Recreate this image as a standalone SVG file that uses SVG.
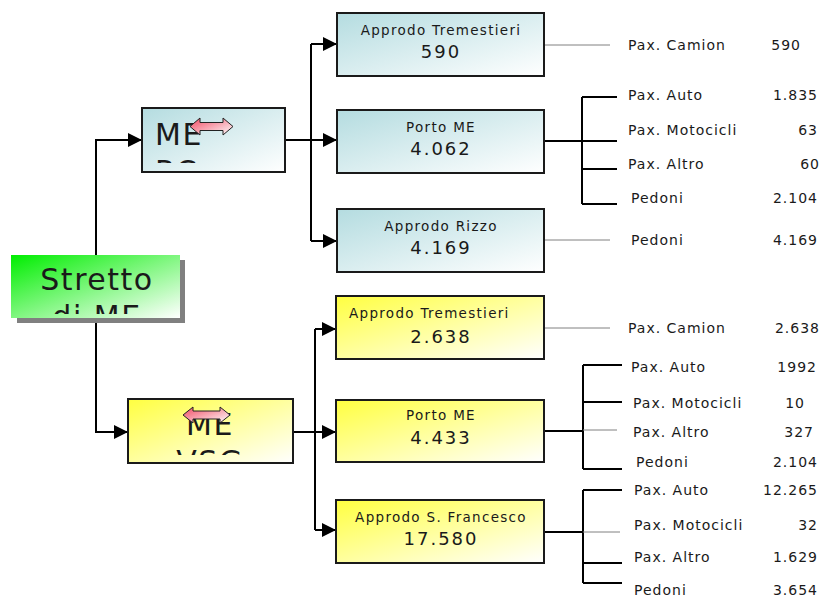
<svg xmlns="http://www.w3.org/2000/svg" width="825" height="599" viewBox="0 0 825 599">
<style>
.box{stroke:#1a1a1a;stroke-width:2}
.ln{fill:none;stroke:#000;stroke-width:2}
.thin{fill:none;stroke:#808080;stroke-width:1}
.t{font-family:"DejaVu Sans",Verdana,sans-serif;fill:#1a1a1a}
.lab{font-size:13.5px;letter-spacing:1.3px}
.num{font-size:18px;letter-spacing:2px}
.big{font-size:30px;letter-spacing:1.5px}
.side{font-size:14px;letter-spacing:1px}
.dar{stroke:#222;stroke-width:1}
</style>
<defs>
<linearGradient id="gb" x1="0" y1="0" x2="1" y2="1"><stop offset="0" stop-color="#b4dce0"/><stop offset="1" stop-color="#ffffff"/></linearGradient>
<linearGradient id="gy" x1="0" y1="0" x2="1" y2="1"><stop offset="0" stop-color="#ffff40"/><stop offset="1" stop-color="#ffffff"/></linearGradient>
<linearGradient id="gg" x1="0" y1="0" x2="1" y2="1"><stop offset="0" stop-color="#00ee00"/><stop offset="1" stop-color="#ffffff"/></linearGradient>
<linearGradient id="gp" x1="0" y1="0" x2="1" y2="1"><stop offset="0" stop-color="#f04a62"/><stop offset="1" stop-color="#ffffff"/></linearGradient>
<marker id="ah" markerUnits="userSpaceOnUse" markerWidth="14" markerHeight="14" refX="14" refY="7" orient="auto"><path d="M0,0 L14,7 L0,14 z" fill="#000"/></marker>
<clipPath id="cs"><rect x="11" y="255" width="169" height="59"/></clipPath>
<clipPath id="crc"><rect x="142" y="108" width="143" height="55"/></clipPath>
<clipPath id="cvsg"><rect x="128" y="399" width="165" height="56"/></clipPath>
</defs>
<g id="connectors">
<path class="ln" d="M96,286 V140 H142" marker-end="url(#ah)"/>
<path class="ln" d="M96,286 V432 H128" marker-end="url(#ah)"/>
<path class="ln" d="M285,140 H311 M311,44 V241"/>
<path class="ln" d="M311,44 H337" marker-end="url(#ah)"/>
<path class="ln" d="M311,140 H337" marker-end="url(#ah)"/>
<path class="ln" d="M311,241 H337" marker-end="url(#ah)"/>
<path class="ln" d="M293,432 H315 M315,329 V530"/>
<path class="ln" d="M315,329 H336" marker-end="url(#ah)"/>
<path class="ln" d="M315,432 H336" marker-end="url(#ah)"/>
<path class="ln" d="M315,530 H336" marker-end="url(#ah)"/>
<path class="thin" d="M544,45 H610 M544,240 H610 M544,328 H610"/>
<path class="ln" d="M544,141 H582 M582,97 V204 M582,97 H617 M582,141 H617 M582,169 H617 M582,204 H617"/>
<path class="ln" d="M544,431 H583 M583,365 V469 M583,365 H622 M583,402 H622 M583,469 H622"/>
<path class="thin" d="M583,430 H617"/>
<path class="ln" d="M544,532 H583 M583,490 V583 M583,490 H622 M583,563 H622 M583,583 H622"/>
<path class="thin" d="M583,532 H620"/>
</g>
<g id="stretto">
<rect x="17" y="260" width="168" height="63" fill="#808080"/>
<rect x="11" y="255" width="169" height="63" fill="url(#gg)"/>
<g clip-path="url(#cs)">
<text class="t big" x="97" y="290" text-anchor="middle">Stretto</text>
<text class="t big" x="97" y="327" text-anchor="middle">di ME</text>
</g>
</g>
<g id="me-rc">
<rect class="box" x="142" y="108" width="143" height="64" fill="url(#gb)"/>
<g clip-path="url(#crc)">
<text class="t big" x="155" y="145">ME</text>
<text class="t big" x="155" y="182">RC</text>
</g>
<polygon class="dar" fill="url(#gp)" points="190,126.5 200,118 200,122.5 223,122.5 223,118 233,126.5 223,135 223,130.5 200,130.5 200,135"/>
</g>
<g id="me-vsg">
<rect class="box" x="128" y="399" width="165" height="64" fill="url(#gy)"/>
<g clip-path="url(#cvsg)">
<text class="t big" x="210" y="435" text-anchor="middle">ME</text>
<text class="t big" x="210" y="472" text-anchor="middle">VSG</text>
</g>
<polygon class="dar" fill="url(#gp)" points="183,415 193,407 193,411 220,411 220,407 230,415 220,423 220,419 193,419 193,423"/>
</g>
<g id="b-trem">
<rect class="box" x="337" y="13" width="207" height="63" fill="url(#gb)"/>
<text class="t lab" x="441" y="35" text-anchor="middle">Approdo Tremestieri</text>
<text class="t num" x="441" y="58" text-anchor="middle">590</text>
</g>
<g id="b-porto">
<rect class="box" x="337" y="110" width="207" height="63" fill="url(#gb)"/>
<text class="t lab" x="441" y="132" text-anchor="middle">Porto ME</text>
<text class="t num" x="441" y="155" text-anchor="middle">4.062</text>
</g>
<g id="b-rizzo">
<rect class="box" x="337" y="209" width="207" height="63" fill="url(#gb)"/>
<text class="t lab" x="441" y="231" text-anchor="middle">Approdo Rizzo</text>
<text class="t num" x="441" y="254" text-anchor="middle">4.169</text>
</g>
<g id="y-trem">
<rect class="box" x="336" y="296" width="208" height="63" fill="url(#gy)"/>
<text class="t lab" x="349" y="318">Approdo Tremestieri</text>
<text class="t num" x="441" y="343" text-anchor="middle">2.638</text>
</g>
<g id="y-porto">
<rect class="box" x="336" y="400" width="208" height="62" fill="url(#gy)"/>
<text class="t lab" x="441" y="420" text-anchor="middle">Porto ME</text>
<text class="t num" x="441" y="444" text-anchor="middle">4.433</text>
</g>
<g id="y-sfran">
<rect class="box" x="336" y="500" width="208" height="63" fill="url(#gy)"/>
<text class="t lab" x="441" y="522" text-anchor="middle">Approdo S. Francesco</text>
<text class="t num" x="441" y="545" text-anchor="middle">17.580</text>
</g>
<g id="labels">
<text class="t side" x="628" y="50">Pax. Camion</text><text class="t side" x="801" y="50" text-anchor="end">590</text>
<text class="t side" x="628" y="100">Pax. Auto</text><text class="t side" x="818" y="100" text-anchor="end">1.835</text>
<text class="t side" x="628" y="135">Pax. Motocicli</text><text class="t side" x="818" y="135" text-anchor="end">63</text>
<text class="t side" x="628" y="169">Pax. Altro</text><text class="t side" x="820" y="169" text-anchor="end">60</text>
<text class="t side" x="631" y="203">Pedoni</text><text class="t side" x="818" y="203" text-anchor="end">2.104</text>
<text class="t side" x="631" y="245">Pedoni</text><text class="t side" x="818" y="245" text-anchor="end">4.169</text>
<text class="t side" x="628" y="333">Pax. Camion</text><text class="t side" x="820" y="333" text-anchor="end">2.638</text>
<text class="t side" x="631" y="372">Pax. Auto</text><text class="t side" x="817" y="372" text-anchor="end">1992</text>
<text class="t side" x="633" y="408">Pax. Motocicli</text><text class="t side" x="805" y="408" text-anchor="end">10</text>
<text class="t side" x="633" y="437">Pax. Altro</text><text class="t side" x="814" y="437" text-anchor="end">327</text>
<text class="t side" x="636" y="467">Pedoni</text><text class="t side" x="818" y="467" text-anchor="end">2.104</text>
<text class="t side" x="634" y="495">Pax. Auto</text><text class="t side" x="818" y="495" text-anchor="end">12.265</text>
<text class="t side" x="634" y="530">Pax. Motocicli</text><text class="t side" x="818" y="530" text-anchor="end">32</text>
<text class="t side" x="634" y="562">Pax. Altro</text><text class="t side" x="818" y="562" text-anchor="end">1.629</text>
<text class="t side" x="634" y="595">Pedoni</text><text class="t side" x="818" y="595" text-anchor="end">3.654</text>
</g>
</svg>
